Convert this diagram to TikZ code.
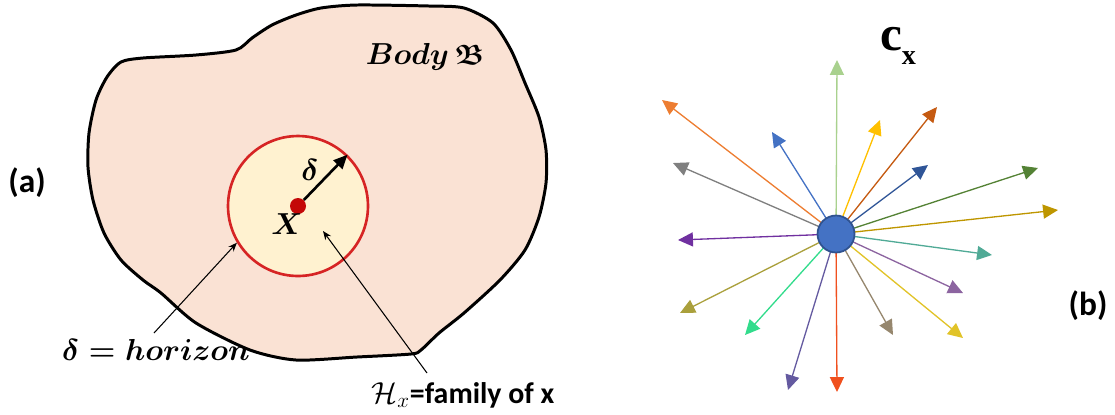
\documentclass[tikz,border=0pt]{standalone}
\usepackage{amsmath,amssymb,bm}
\usepackage{fontspec}
\newfontfamily\carl{Carlito}
\newfontfamily\tnr{Liberation Serif}
\usetikzlibrary{arrows.meta}
\definecolor{bodyfill}{RGB}{250,226,212}
\definecolor{innerfill}{RGB}{255,242,208}
\definecolor{hred}{RGB}{214,36,36}
\definecolor{dotred}{RGB}{196,8,8}
\definecolor{cblue}{RGB}{68,114,196}
\definecolor{cblueedge}{RGB}{47,82,143}
\definecolor{k1}{RGB}{169,209,142}
\definecolor{k2}{RGB}{237,125,49}
\definecolor{k3}{RGB}{68,114,196}
\definecolor{k4}{RGB}{127,127,127}
\definecolor{k5}{RGB}{112,48,160}
\definecolor{k6}{RGB}{170,160,60}
\definecolor{k7}{RGB}{50,220,140}
\definecolor{k8}{RGB}{100,90,160}
\definecolor{k9}{RGB}{240,80,30}
\definecolor{k10}{RGB}{150,135,110}
\definecolor{k11}{RGB}{225,195,40}
\definecolor{k12}{RGB}{140,100,160}
\definecolor{k13}{RGB}{80,170,150}
\definecolor{k14}{RGB}{190,150,0}
\definecolor{k15}{RGB}{84,130,53}
\definecolor{k16}{RGB}{47,85,151}
\definecolor{k17}{RGB}{197,90,17}
\definecolor{k18}{RGB}{255,192,0}
\tikzset{
  ray/.style={line width=0.75pt, -{Triangle[length=8.5pt,width=8pt]}},
  pointer/.style={line width=0.6pt, -{Stealth[length=5pt,width=4pt]}},
  panel/.style={font=\carl\bfseries\fontsize{19}{20}\selectfont},
  bmath/.style={font=\boldmath\fontsize{18}{20}\selectfont},
}
\begin{document}
\begin{tikzpicture}[x=0.02cm,y=-0.02cm]
\useasboundingbox (0,0) rectangle (1115,414);
% ---------- (a) ----------
\draw[line width=1.7pt, fill=bodyfill, line join=round]
  plot[smooth cycle, tension=0.45] coordinates {
  (121,62) (143,58) (196,55) (236,50) (252,38) (272,25) (296,15) (321,8)
  (357,5) (429,6) (464,8) (493,23) (511,50) (525,83) (539,117) (546,150)
  (546,183) (539,217) (525,250) (500,280) (464,313) (439,333) (421,350)
  (411,354) (357,357) (296,360) (250,350) (196,323) (161,293) (143,280)
  (121,260) (104,233) (93,200) (88,167) (89,133) (96,100) (107,77)};
\node[circle, draw=hred, line width=1.5pt, fill=innerfill, minimum size=28mm, inner sep=0] (H) at (298,206) {};
\node[circle, fill=dotred, minimum size=3.2mm, inner sep=0] (x) at (298,206) {};
\draw[line width=1.5pt, -{Triangle[length=8pt,width=7pt]}] (x) -- (H.46);
\node[bmath] (dl) at (310,170) {$\delta$};
\node[bmath] (xl) at (287,224) {$X$};
\node[bmath, font=\boldmath\fontsize{16}{18}\selectfont] (body) at (425,57) {$Body\,\mathfrak{B}$};
\node[bmath] (hor) at (156,350) {$\delta = horizon$};
\node (fam) at (463,395) {\fontsize{17}{20}\selectfont$\mathcal{H}_{x}${\carl\bfseries =family of x}};
\coordinate (hs) at (154,333);
\coordinate (fs) at (427,373);
\coordinate (ft) at (323,231);
\draw[pointer] (hs) -- (H.211);
\draw[pointer] (fs) -- (ft);
\node[panel] (a) at (27,183) {(a)};
% ---------- (b) ----------
\node[panel] (b) at (1088,306) {(b)};
\node (cx) at (898,46) {\tnr\bfseries\fontsize{28}{28}\selectfont c\raisebox{-0.3em}{\fontsize{16}{16}\selectfont x}};
\node[circle, minimum size=7.4mm, inner sep=0] (c) at (836,234) {};
\coordinate (t1) at (837,60);
\coordinate (t2) at (662,100);
\coordinate (t3) at (772,132);
\coordinate (t4) at (673,163);
\coordinate (t5) at (678,240);
\coordinate (t6) at (680,313);
\coordinate (t7) at (745,335);
\coordinate (t8) at (788,390);
\coordinate (t9) at (837,392);
\coordinate (t10) at (893,335);
\coordinate (t11) at (963,338);
\coordinate (t12) at (963,293);
\coordinate (t13) at (992,255);
\coordinate (t14) at (1058,210);
\coordinate (t15) at (1038,168);
\coordinate (t16) at (928,165);
\coordinate (t17) at (937,107);
\coordinate (t18) at (880,120);
\foreach \i in {1,...,18} {
  \draw[ray, color=k\i] (c.center) -- (t\i);
}
\fill[cblue, draw=cblueedge, line width=1pt] (c.center) circle[radius=0.37cm];
\end{tikzpicture}
\end{document}
